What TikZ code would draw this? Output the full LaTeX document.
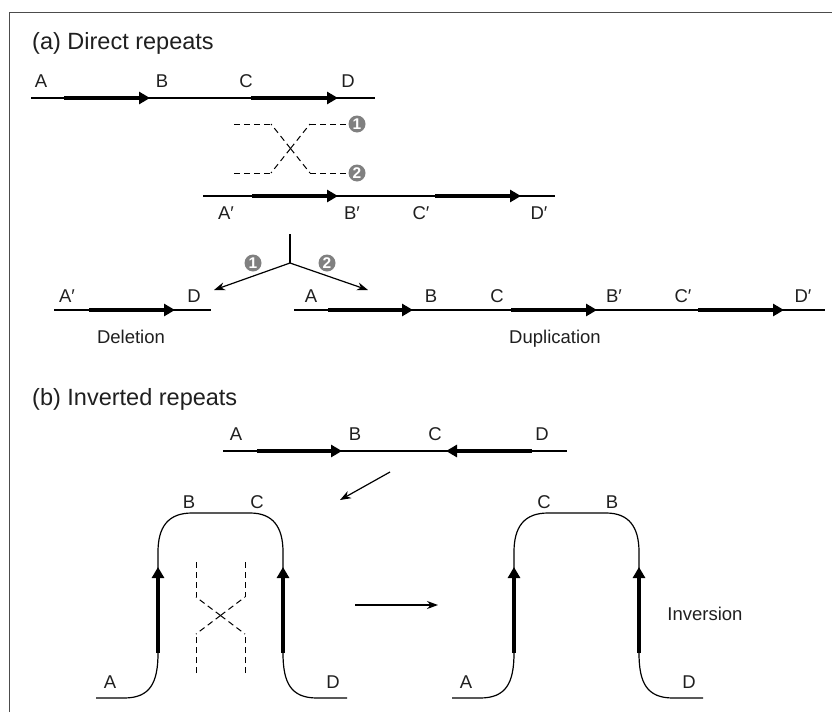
\documentclass[tikz,border=0pt]{standalone}
\usepackage{fontspec}
\setmainfont{Liberation Sans}
\usetikzlibrary{arrows.meta}

\begin{document}
\begin{tikzpicture}[x=1pt,y=-1pt,
  lbl/.style={font=\fontsize{18.5}{18.5}\selectfont, anchor=base, text=black!88, inner sep=0pt},
  ttl/.style={font=\fontsize{23.5}{24}\selectfont, anchor=base west, text=black!88, inner sep=0pt},
  dna/.style={line width=1.2pt},
  rep/.style={line width=4.8pt, -{Triangle[length=11pt,width=12pt]}},
  dsh/.style={line width=1pt, dash pattern=on 6pt off 4pt},
  thinarrow/.style={line width=1.2pt, -{Stealth[length=11pt,width=8pt]}},
  num/.style={circle, fill=black!50, text=white, inner sep=0pt, minimum size=17pt,
              font=\fontsize{15.5}{15.5}\selectfont\bfseries},
]
\useasboundingbox (0,0) rectangle (832,712);
% frame
\draw[line width=1pt, black!70] (9,712) -- (9,12) -- (832,12);

% ---------------- (a) Direct repeats ----------------
\node[ttl] (ta) at (32,49) {(a) Direct repeats};

% parent molecule
\coordinate (p1s) at (31,98);  \coordinate (p1e) at (375,98);
\draw[dna] (p1s) -- (p1e);
\draw[rep] (64,98) -- (150,98);
\draw[rep] (251,98) -- (338,98);
\node[lbl] (pa) at (41,87) {A};
\node[lbl] (pb) at (162,87) {B};
\node[lbl] (pc) at (246,87) {C};
\node[lbl] (pd) at (348,87) {D};

% crossover between the two copies
\node[num] (c1) at (357,124) {1};
\node[num] (c2) at (357,173) {2};
\coordinate (xa) at (290.5,148.5);
\draw[dsh] (234,124) -- (271,124);
\draw[dsh] (234,173) -- (271,173);
\draw[dsh] (xa) -- (271,124);
\draw[dsh] (xa) -- (271,173);
\draw[dsh] (xa) -- (310,124);
\draw[dsh] (xa) -- (310,173);
\draw[dsh] (310,124) -- (c1.west);
\draw[dsh] (310,173) -- (c2.west);

% partner molecule
\draw[dna] (203,196) -- (555,196);
\draw[rep] (252,196) -- (338,196);
\draw[rep] (435,196) -- (521,196);
\node[lbl] (qa) at (226,219) {A′};
\node[lbl] (qb) at (352,219) {B′};
\node[lbl] (qc) at (421,219) {C′};
\node[lbl] (qd) at (539,219) {D′};

% fork to the two products
\coordinate (ftop) at (290,234);
\coordinate (fork) at (290,263);
\coordinate (fl) at (214,290);
\coordinate (fr) at (368,290);
\draw[dna] (ftop) -- (fork);
\draw[thinarrow] (fork) -- (fl);
\draw[thinarrow] (fork) -- (fr);
\node[num] (f1) at (253,263) {1};
\node[num] (f2) at (327,263) {2};

% deletion product
\draw[dna] (54,310) -- (211,310);
\draw[rep] (89,310) -- (175,310);
\node[lbl] (da) at (67,302) {A′};
\node[lbl] (dd) at (194,302) {D};
\node[lbl] (del) at (131,343) {Deletion};

% duplication product
\draw[dna] (294,310) -- (825,310);
\draw[rep] (328,310) -- (413,310);
\draw[rep] (511,310) -- (597,310);
\draw[rep] (698,310) -- (784,310);
\node[lbl] (ua) at (311,302) {A};
\node[lbl] (ub) at (431,302) {B};
\node[lbl] (uc) at (497,302) {C};
\node[lbl] (ub2) at (614,302) {B′};
\node[lbl] (uc2) at (683,302) {C′};
\node[lbl] (ud2) at (803,302) {D′};
\node[lbl] (dup) at (555,343) {Duplication};

% ---------------- (b) Inverted repeats ----------------
\node[ttl] (tb) at (32,405) {(b) Inverted repeats};

\draw[dna] (223,451) -- (567,451);
\draw[rep] (257,451) -- (342,451);
\draw[rep] (532,451) -- (446,451);
\node[lbl] (ia) at (236,440) {A};
\node[lbl] (ib) at (355,440) {B};
\node[lbl] (ic) at (435,440) {C};
\node[lbl] (id) at (542,440) {D};

\coordinate (s1) at (390,472);
\coordinate (s2) at (340,500);
\draw[thinarrow] (s1) -- (s2);
\coordinate (h1) at (355,605);
\coordinate (h2) at (438,605);
\draw[thinarrow] (h1) -- (h2);

% folded molecules (before and after)
\foreach \ox in {0,356}{
  \begin{scope}[xshift=\ox pt]
    \draw[dna] (96,698) -- (124,698)
      .. controls (150,698) and (158,683) .. (158,653) -- (158,552)
      .. controls (158,527) and (168,513) .. (192,513) -- (250,513)
      .. controls (273,513) and (283,527) .. (283,552) -- (283,653)
      .. controls (283,683) and (291,698) .. (317,698) -- (347,698);
    \draw[rep] (158,653) -- (158,567);
    \draw[rep] (283,653) -- (283,567);
  \end{scope}
}
\node[lbl] (la) at (110,688) {A};
\node[lbl] (lb) at (189,508) {B};
\node[lbl] (lc) at (257,508) {C};
\node[lbl] (ld) at (333,688) {D};
\node[lbl] (ra) at (466,688) {A};
\node[lbl] (rc) at (544,508) {C};
\node[lbl] (rb) at (612,508) {B};
\node[lbl] (rd) at (689,688) {D};
\node[lbl] (inv) at (705,620) {Inversion};

% crossover inside the loop
\coordinate (xb) at (220.5,615.5);
\draw[dsh] (196,562) -- (196,597);
\draw[dsh] (245,562) -- (245,597);
\draw[dsh] (196,673) -- (196,634);
\draw[dsh] (245,673) -- (245,634);
\draw[dsh] (xb) -- (196,597);
\draw[dsh] (xb) -- (245,597);
\draw[dsh] (xb) -- (196,634);
\draw[dsh] (xb) -- (245,634);
\end{tikzpicture}
\end{document}
